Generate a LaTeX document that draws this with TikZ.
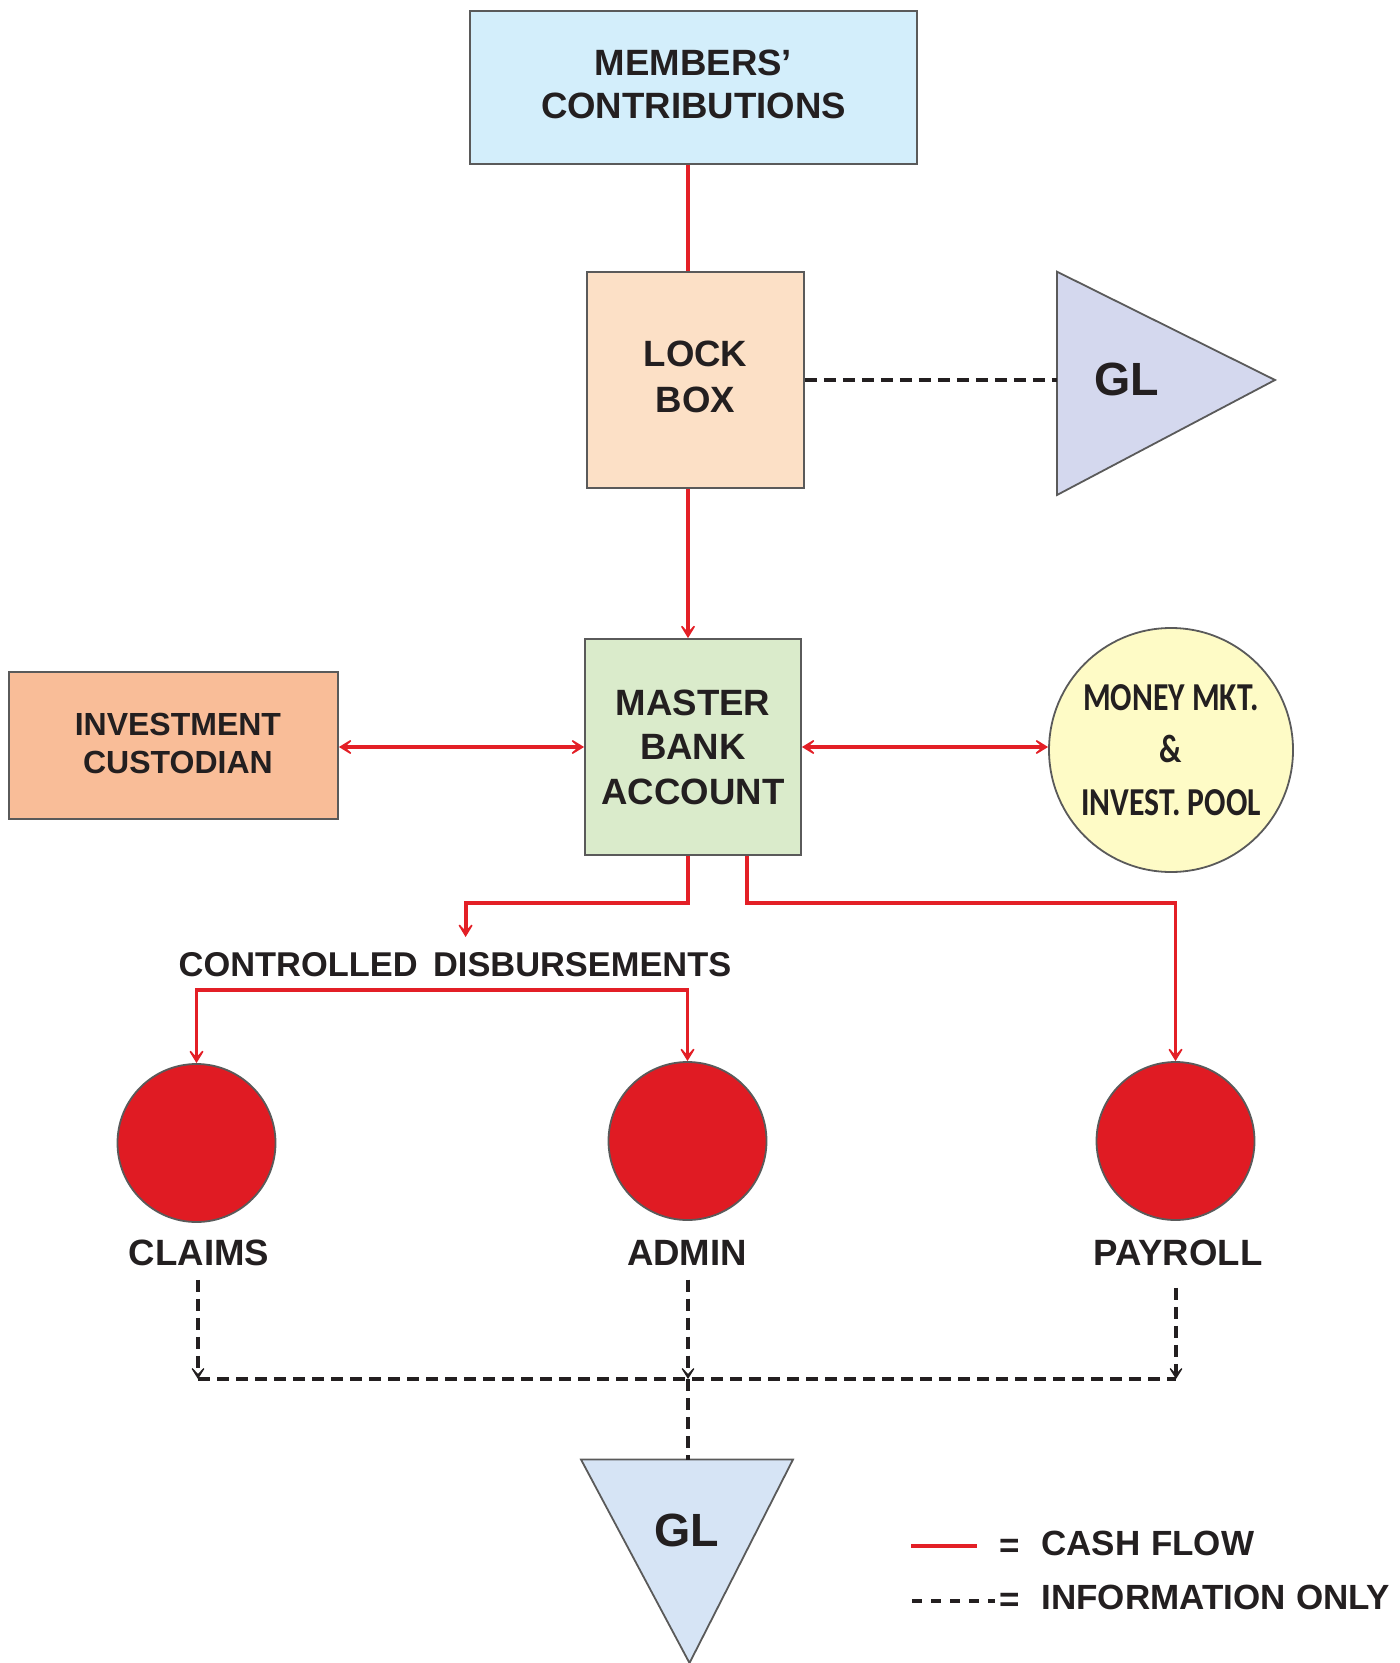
\documentclass[tikz,border=0pt]{standalone}
\usepackage{fontspec}
\setmainfont{Liberation Sans}
\newfontfamily\mmfont{Carlito}
\usetikzlibrary{arrows.meta,calc}
\definecolor{cashred}{HTML}{E31F26}
\definecolor{bordergray}{HTML}{5A5A5A}
\definecolor{txt}{HTML}{231F20}
\definecolor{membersfill}{HTML}{D3EEFB}
\definecolor{lockfill}{HTML}{FCE0C6}
\definecolor{glrfill}{HTML}{D4D8EE}
\definecolor{masterfill}{HTML}{DAEBCB}
\definecolor{icfill}{HTML}{F9BD98}
\definecolor{mmfill}{HTML}{FEFBC6}
\definecolor{dotred}{HTML}{E01B23}
\definecolor{glbfill}{HTML}{D6E4F5}
\begin{document}
\begin{tikzpicture}[x=0.5pt,y=-0.5pt,
  box/.style={draw=bordergray, line width=0.9pt, align=center, text=txt, inner sep=0pt,
    font=\bfseries\fontsize{18.3}{22.3}\selectfont},
  dot/.style={circle, draw=bordergray, line width=0.9pt, fill=dotred, minimum size=79pt, inner sep=0pt},
  lbl/.style={text=txt, inner sep=0pt, font=\bfseries\fontsize{18.3}{22}\selectfont},
  gltext/.style={text=txt, inner sep=0pt, font=\bfseries\fontsize{23.3}{28}\selectfont},
  legtext/.style={text=txt, inner sep=0pt, font=\bfseries\fontsize{17.5}{21}\selectfont},
  cash/.style={draw=cashred, line width=1.9pt},
  ctip/.style={-{Stealth[length=9pt,width=11pt,inset=6pt]}},
  ctips/.style={{Stealth[length=9pt,width=11pt,inset=6pt]}-{Stealth[length=9pt,width=11pt,inset=6pt]}},
  info/.style={draw=txt, line width=1.7pt, dash pattern=on 6pt off 3.5pt},
  itip/.style={-{Stealth[length=8pt,width=10pt,inset=5.5pt]}},
]
\useasboundingbox (0,0) rectangle (1399,1663);

% boxes
\node[box, fill=membersfill, minimum width=223.5pt, minimum height=76.5pt, text depth=3.2pt] (members) at (693.5,87.5)
  {MEMBERS’\\[-0.8pt]CONTRIBUTIONS};
\node[box, fill=lockfill, minimum width=108.5pt, minimum height=108pt, text depth=3.2pt,
  font=\bfseries\fontsize{18.3}{23.3}\selectfont] (lockbox) at (695.5,380) {LOCK\\BOX};
\node[box, fill=masterfill, minimum width=108pt, minimum height=108pt] (master) at (693,747)
  {MASTER\\BANK\\ACCOUNT};
\node[box, fill=icfill, minimum width=164.5pt, minimum height=73.5pt, text depth=2pt,
  font=\bfseries\fontsize{16}{19}\selectfont] (ic) at (173.5,745.3)
  {\hspace*{4.4pt}INVESTMENT\\\hspace*{4.4pt}CUSTODIAN};
\node[circle, draw=bordergray, line width=0.9pt, fill=mmfill, minimum size=122pt, inner sep=0pt,
  align=center, text=txt, font=\mmfont\bfseries\fontsize{19.8}{26.25}\selectfont] (mm) at (1171,750)
  {\scalebox{0.8}[1]{MONEY MKT.}\\\scalebox{0.8}[1]{\&}\\\scalebox{0.8}[1]{INVEST. POOL}};

% right GL triangle
\coordinate (glrw) at (1057,380);
\draw[draw=bordergray, line width=0.9pt, fill=glrfill] (1057,271.7) -- (1275,380) -- (1057,495) -- cycle;
\node[gltext] (glr) at (1126.5,379) {GL};

% bottom GL triangle
\coordinate (glbtop) at (688,1459.5);
\draw[draw=bordergray, line width=0.9pt, fill=glbfill] (581,1459.5) -- (793,1459.5) -- (689.5,1663) -- cycle;
\node[gltext] (glb) at (687,1530) {GL};

% red dots
\node[dot] (claims) at (196.5,1143) {};
\node[dot] (admin) at (687.5,1141) {};
\node[dot] (payroll) at (1175.5,1141) {};
\node[lbl] (claimslbl) at (199,1252.5) {CLAIMS};
\node[lbl] (adminlbl) at (687,1252.5) {ADMIN};
\node[lbl] (payrolllbl) at (1178,1252.5) {PAYROLL};

\node[lbl, font=\bfseries\fontsize{17.2}{21}\selectfont] (cd) at (455,965) {CONTROLLED\hspace{0.45em}DISBURSEMENTS};

% cash flow connectors
\coordinate (mx) at (688,0);
\coordinate (px) at (746.7,0);
\coordinate (cdtip) at (465.6,937);
\coordinate (cdbar) at (440,990);
\draw[cash] (members.south -| mx) -- (lockbox.north -| mx);
\draw[cash, ctip] (lockbox.south -| mx) -- (master.north -| mx);
\draw[cash, ctips] (ic.east |- master.west) -- (master.west);
\draw[cash, ctips] (master.east) -- (mm.west |- master.east);
\draw[cash, ctip] (master.south -| mx) -- ++(0,47) -| (cdtip);
\draw[cash, ctip] (master.south -| px) -- ++(0,47) -| (payroll.north);
\draw[cash, ctips] (claims.north) |- (cdbar) -| (admin.north);

% information connectors
\coordinate (jc) at (198,1379);
\coordinate (ja) at (688,1379);
\coordinate (jp) at (1176,1379);
\draw[info] (lockbox.east) -- (glrw);
\draw[info, itip] ($(claimslbl.south)+(-1,14)$) -- (jc);
\draw[info, itip] ($(adminlbl.south)+(1,14)$) -- (ja);
\draw[info, itip] ($(payrolllbl.south)+(-2,22)$) -- (jp);
\draw[info] (jc) -- (jp);
\draw[info] (ja) -- (glbtop);

% legend
\coordinate (lca) at (911,1546);
\coordinate (lcb) at (977,1546);
\coordinate (lia) at (912,1601);
\coordinate (lib) at (995,1601);
\draw[cash] (lca) -- (lcb);
\draw[draw=txt, line width=1.7pt, dash pattern=on 5pt off 4.5pt] (lia) -- (lib);
\node[legtext] (eq1) at (1010,1548) {=};
\node[legtext, anchor=west] (lcash) at (1041,1543) {CASH\hspace{0.3em}FLOW};
\node[legtext] (eq2) at (1010,1602) {=};
\node[legtext, anchor=west] (linfo) at (1041,1597) {INFORMATION\hspace{0.3em}ONLY};
\end{tikzpicture}
\end{document}
